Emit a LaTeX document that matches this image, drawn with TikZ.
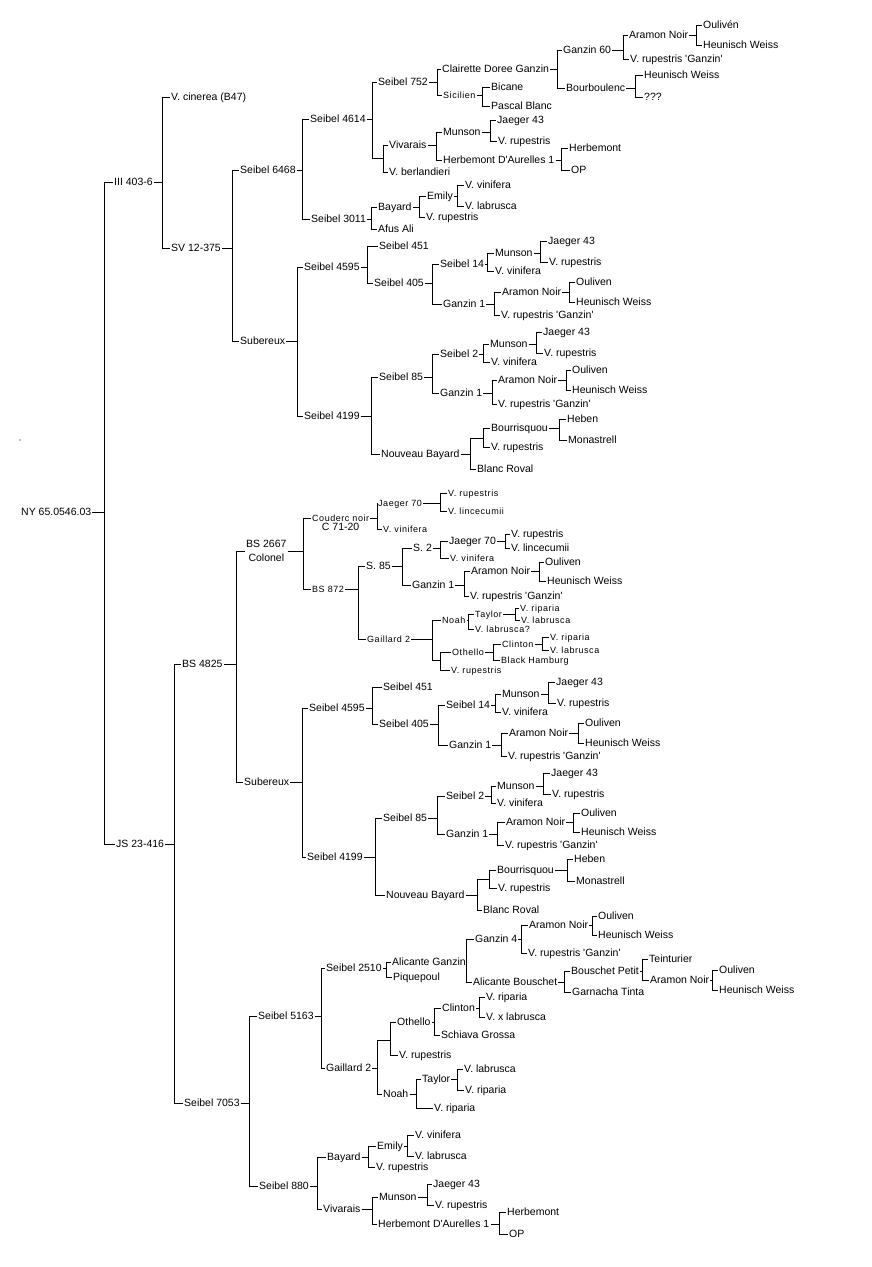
\documentclass[tikz,border=0pt]{standalone}
\usepackage{fontspec}
\setmainfont{Liberation Sans}
\newfontfamily\smallf[LetterSpace=6]{Liberation Sans}
\newcommand\q{\textquotesingle}
\tikzset{
  lab/.style={anchor=west, inner xsep=1pt, inner ysep=0pt, text height=7.6pt, text depth=0pt, font=\fontsize{10.5}{12}\selectfont},
  slab/.style={anchor=west, inner xsep=1pt, inner ysep=0pt, text height=6.6pt, text depth=0pt, font=\smallf\fontsize{9}{10}\selectfont},
  jn/.style={inner sep=0pt, minimum size=0pt},
  conn/.style={line width=1pt}
}
\newcommand\Nd[4]{\node[lab] (#1) at ({#2-1},#3) {#4};}
\newcommand\Ns[4]{\node[slab] (#1) at ({#2-1},#3) {#4};}
\newcommand\Jn[3]{\node[jn] (#1) at (#2,#3) {};}
\newcommand\Br[4]{\coordinate (v) at (#2,0);
  \draw[conn] (#1.east) -- (#1.east -| v);
  \draw[conn] (#3.west) -- (#3.west -| v) -- (#4.west -| v) -- (#4.west);}
\begin{document}
\begin{tikzpicture}[x=1pt,y=-1pt]
\path[fill=white] (0,0) rectangle (872,1267);
\useasboundingbox (0,0) rectangle (872,1267);
\fill (20,440) circle (0.6);
% ---------- root ----------
\Nd{root}{21}{512}{NY 65.0546.03}
\Nd{a}{114}{182}{III 403-6}
\Nd{b}{116}{844}{JS 23-416}
\Br{root}{104}{a}{b}
\Nd{acin}{171}{97}{V. cinerea (B47)}
\Nd{asv}{171}{248}{SV 12-375}
\Br{a}{162}{acin}{asv}
\Nd{s6468}{240}{170}{Seibel 6468}
\Nd{sub1}{240}{341}{Subereux}
\Br{asv}{232}{s6468}{sub1}
\Nd{s4614}{310}{119}{Seibel 4614}
\Nd{s3011}{311}{219}{Seibel 3011}
\Br{s6468}{302}{s4614}{s3011}
\Nd{s752}{378}{82}{Seibel 752}
\Jn{j1}{383}{158}
\Br{s4614}{372}{s752}{j1}
\Nd{cdg}{442}{69}{Clairette Doree Ganzin}
\Ns{sic}{443}{95}{Sicilien}
\Br{s752}{437}{cdg}{sic}
\Nd{g60}{563}{50}{Ganzin 60}
\Nd{bourb}{566}{88}{Bourboulenc}
\Br{cdg}{557}{g60}{bourb}
\Nd{an1}{629}{35}{Aramon Noir}
\Nd{vrg1}{630}{59}{V. rupestris \q Ganzin\q}
\Br{g60}{623}{an1}{vrg1}
\Nd{ou1}{703}{25}{Oulivén}
\Nd{hw1}{703}{45}{Heunisch Weiss}
\Br{an1}{696}{ou1}{hw1}
\Nd{hw2}{644}{75}{Heunisch Weiss}
\Nd{qq}{644}{97}{???}
\Br{bourb}{635}{hw2}{qq}
\Nd{bic}{491}{87}{Bicane}
\Nd{pb}{491}{106}{Pascal Blanc}
\Br{sic}{482}{bic}{pb}
\Nd{viv1}{389}{145}{Vivarais}
\Nd{vber}{389}{172}{V. berlandieri}
\Br{j1}{383}{viv1}{vber}
\Nd{mun1}{443}{132}{Munson}
\Nd{hda1}{443}{160}{Herbemont D\q Aurelles 1}
\Br{viv1}{436}{mun1}{hda1}
\Nd{j43a}{497}{120}{Jaeger 43}
\Nd{vr1}{498}{141}{V. rupestris}
\Br{mun1}{490}{j43a}{vr1}
\Nd{herb1}{569}{148}{Herbemont}
\Nd{op1}{571}{170}{OP}
\Br{hda1}{561}{herb1}{op1}
\Nd{bay1}{378}{207}{Bayard}
\Nd{afus}{378}{229}{Afus Ali}
\Br{s3011}{371}{bay1}{afus}
\Nd{emi1}{427}{196}{Emily}
\Nd{vr2}{426}{217}{V. rupestris}
\Br{bay1}{419}{emi1}{vr2}
\Nd{vv1}{465}{185}{V. vinifera}
\Nd{vl1}{465}{206}{V. labrusca}
\Br{emi1}{457}{vv1}{vl1}
% ---------- Subereux (top) ----------
\Nd{s4595a}{304}{267}{Seibel 4595}
\Nd{s4199a}{304}{416}{Seibel 4199}
\Br{sub1}{297}{s4595a}{s4199a}
\Nd{s451a}{379}{246}{Seibel 451}
\Nd{s405a}{374}{283}{Seibel 405}
\Br{s4595a}{367}{s451a}{s405a}
\Nd{s14a}{440}{264}{Seibel 14}
\Nd{g1a}{443}{304}{Ganzin 1}
\Br{s405a}{432}{s14a}{g1a}
\Nd{mun2}{495}{253}{Munson}
\Nd{vv2}{495}{271}{V. vinifera}
\Br{s14a}{487}{mun2}{vv2}
\Nd{j43b}{548}{241}{Jaeger 43}
\Nd{vr3}{549}{262}{V. rupestris}
\Br{mun2}{540}{j43b}{vr3}
\Nd{an2}{502}{292}{Aramon Noir}
\Nd{vrg2}{501}{315}{V. rupestris \q Ganzin\q}
\Br{g1a}{494}{an2}{vrg2}
\Nd{ou2}{576}{282}{Ouliven}
\Nd{hw3}{576}{302}{Heunisch Weiss}
\Br{an2}{569}{ou2}{hw3}
\Nd{s85a}{379}{377}{Seibel 85}
\Nd{nba}{381}{454}{Nouveau Bayard}
\Br{s4199a}{371}{s85a}{nba}
\Nd{s2a}{440}{354}{Seibel 2}
\Nd{g1b}{440}{393}{Ganzin 1}
\Br{s85a}{432}{s2a}{g1b}
\Nd{mun3}{490}{344}{Munson}
\Nd{vv3}{491}{362}{V. vinifera}
\Br{s2a}{483}{mun3}{vv3}
\Nd{j43c}{543}{332}{Jaeger 43}
\Nd{vr4}{544}{353}{V. rupestris}
\Br{mun3}{536}{j43c}{vr4}
\Nd{an3}{498}{380}{Aramon Noir}
\Nd{vrg3}{498}{404}{V. rupestris \q Ganzin\q}
\Br{g1b}{492}{an3}{vrg3}
\Nd{ou3}{572}{370}{Ouliven}
\Nd{hw4}{572}{390}{Heunisch Weiss}
\Br{an3}{566}{ou3}{hw4}
\Jn{j2}{483}{438}
\Nd{br1}{477}{469}{Blanc Roval}
\Br{nba}{470}{j2}{br1}
\Nd{bour1}{491}{428}{Bourrisquou}
\Nd{vr5}{491}{447}{V. rupestris}
\Br{j2}{483}{bour1}{vr5}
\Nd{heb1}{567}{419}{Heben}
\Nd{mon1}{568}{440}{Monastrell}
\Br{bour1}{559}{heb1}{mon1}
% ---------- JS 23-416 ----------
\Nd{bs4825}{182}{664}{BS 4825}
\Nd{s7053}{184}{1103}{Seibel 7053}
\Br{b}{174}{bs4825}{s7053}
\node[anchor=west, inner xsep=1pt, inner ysep=0pt, align=center, font=\fontsize{10.5}{14}\selectfont] (bs2667) at (245,551) {BS 2667\\Colonel};
\Nd{sub2}{244}{782}{Subereux}
\Br{bs4825}{236}{bs2667}{sub2}
\Ns{coud}{312}{518}{Couderc noir}
\node[lab, anchor=north, inner ysep=1.5pt] (c7120) at (coud.south) {C 71-20};
\Ns{bs872}{312}{589}{BS 872}
\Br{bs2667}{303}{coud}{bs872}
\Ns{j70a}{378}{503}{Jaeger 70}
\Ns{vv4}{383}{529}{V. vinifera}
\Br{coud}{377}{j70a}{vv4}
\Ns{vr6}{448}{493}{V. rupestris}
\Ns{vlin1}{448}{511}{V. lincecumii}
\Br{j70a}{440}{vr6}{vlin1}
\Nd{s85b}{366}{566}{S. 85}
\Ns{gail1}{367}{639}{Gaillard 2}
\Br{bs872}{358}{s85b}{gail1}
\Nd{s2b}{413}{548}{S. 2}
\Nd{g1c}{412}{585}{Ganzin 1}
\Br{s85b}{402}{s2b}{g1c}
\Nd{j70b}{449}{541}{Jaeger 70}
\Ns{vv5}{450}{558}{V. vinifera}
\Br{s2b}{440}{j70b}{vv5}
\Nd{vr7}{511}{534}{V. rupestris}
\Nd{vlin2}{511}{548}{V. lincecumii}
\Br{j70b}{505}{vr7}{vlin2}
\Nd{an4}{471}{571}{Aramon Noir}
\Nd{vrg4}{470}{596}{V. rupestris \q Ganzin\q}
\Br{g1c}{464}{an4}{vrg4}
\Nd{ou4}{545}{562}{Ouliven}
\Nd{hw5}{547}{581}{Heunisch Weiss}
\Br{an4}{539}{ou4}{hw5}
\Ns{noah1}{442}{620}{Noah}
\Jn{j3}{440}{660}
\Br{gail1}{432}{noah1}{j3}
\Ns{tay1}{475}{614}{Taylor}
\Ns{vlq}{475}{629}{V. labrusca?}
\Br{noah1}{468}{tay1}{vlq}
\Ns{vrip1}{520}{608}{V. riparia}
\Ns{vl2}{521}{620}{V. labrusca}
\Br{tay1}{515}{vrip1}{vl2}
\Ns{oth1}{452}{652}{Othello}
\Ns{vr8}{451}{670}{V. rupestris}
\Br{j3}{440}{oth1}{vr8}
\Ns{cli1}{502}{644}{Clinton}
\Ns{bh}{501}{660}{Black Hamburg}
\Br{oth1}{493}{cli1}{bh}
\Ns{vrip2}{550}{637}{V. riparia}
\Ns{vl3}{550}{650}{V. labrusca}
\Br{cli1}{542}{vrip2}{vl3}
% ---------- Subereux (bottom) ----------
\Nd{s4595b}{309}{708}{Seibel 4595}
\Nd{s4199b}{307}{857}{Seibel 4199}
\Br{sub2}{302}{s4595b}{s4199b}
\Nd{s451b}{383}{687}{Seibel 451}
\Nd{s405b}{379}{724}{Seibel 405}
\Br{s4595b}{372}{s451b}{s405b}
\Nd{s14b}{446}{705}{Seibel 14}
\Nd{g1d}{449}{745}{Ganzin 1}
\Br{s405b}{438}{s14b}{g1d}
\Nd{mun4}{502}{694}{Munson}
\Nd{vv6}{502}{712}{V. vinifera}
\Br{s14b}{495}{mun4}{vv6}
\Nd{j43d}{556}{682}{Jaeger 43}
\Nd{vr9}{557}{703}{V. rupestris}
\Br{mun4}{548}{j43d}{vr9}
\Nd{an5}{509}{733}{Aramon Noir}
\Nd{vrg5}{508}{756}{V. rupestris \q Ganzin\q}
\Br{g1d}{501}{an5}{vrg5}
\Nd{ou5}{585}{723}{Ouliven}
\Nd{hw6}{585}{743}{Heunisch Weiss}
\Br{an5}{578}{ou5}{hw6}
\Nd{s85c}{383}{818}{Seibel 85}
\Nd{nbb}{386}{895}{Nouveau Bayard}
\Br{s4199b}{375}{s85c}{nbb}
\Nd{s2c}{446}{796}{Seibel 2}
\Nd{g1e}{446}{834}{Ganzin 1}
\Br{s85c}{437}{s2c}{g1e}
\Nd{mun5}{497}{786}{Munson}
\Nd{vv7}{497}{803}{V. vinifera}
\Br{s2c}{491}{mun5}{vv7}
\Nd{j43e}{551}{773}{Jaeger 43}
\Nd{vr10}{552}{794}{V. rupestris}
\Br{mun5}{543}{j43e}{vr10}
\Nd{an6}{506}{822}{Aramon Noir}
\Nd{vrg6}{505}{845}{V. rupestris \q Ganzin\q}
\Br{g1e}{497}{an6}{vrg6}
\Nd{ou6}{581}{813}{Ouliven}
\Nd{hw7}{581}{832}{Heunisch Weiss}
\Br{an6}{573}{ou6}{hw7}
\Jn{j4}{489}{879}
\Nd{br2}{483}{910}{Blanc Roval}
\Br{nbb}{477}{j4}{br2}
\Nd{bour2}{497}{870}{Bourrisquou}
\Nd{vr11}{498}{888}{V. rupestris}
\Br{j4}{489}{bour2}{vr11}
\Nd{heb2}{574}{859}{Heben}
\Nd{mon2}{576}{881}{Monastrell}
\Br{bour2}{567}{heb2}{mon2}
% ---------- Seibel 7053 ----------
\Nd{s5163}{258}{1016}{Seibel 5163}
\Nd{s880}{259}{1186}{Seibel 880}
\Br{s7053}{249}{s5163}{s880}
\Nd{s2510}{326}{968}{Seibel 2510}
\Nd{gail2}{326}{1068}{Gaillard 2}
\Br{s5163}{321}{s2510}{gail2}
\Nd{alg}{392}{962}{Alicante Ganzin}
\Nd{piq}{393}{977}{Piquepoul}
\Br{s2510}{386}{alg}{piq}
\Nd{g4}{475}{939}{Ganzin 4}
\Nd{alb}{473}{982}{Alicante Bouschet}
\Br{alg}{466}{g4}{alb}
\Nd{an7}{529}{925}{Aramon Noir}
\Nd{vrg7}{528}{953}{V. rupestris \q Ganzin\q}
\Br{g4}{521}{an7}{vrg7}
\Nd{ou7}{598}{916}{Ouliven}
\Nd{hw8}{598}{935}{Heunisch Weiss}
\Br{an7}{592}{ou7}{hw8}
\Nd{bp}{571}{971}{Bouschet Petit}
\Nd{gt}{572}{992}{Garnacha Tinta}
\Br{alb}{564}{bp}{gt}
\Nd{tein}{649}{959}{Teinturier}
\Nd{an8}{650}{980}{Aramon Noir}
\Br{bp}{642}{tein}{an8}
\Nd{ou8}{719}{970}{Ouliven}
\Nd{hw9}{719}{990}{Heunisch Weiss}
\Br{an8}{712}{ou8}{hw9}
\Jn{j5}{390}{1040}
\Nd{noah2}{383}{1094}{Noah}
\Br{gail2}{377}{j5}{noah2}
\Nd{oth2}{397}{1022}{Othello}
\Nd{vr12}{399}{1055}{V. rupestris}
\Br{j5}{390}{oth2}{vr12}
\Nd{cli2}{442}{1008}{Clinton}
\Nd{sg}{441}{1035}{Schiava Grossa}
\Br{oth2}{434}{cli2}{sg}
\Nd{vrip3}{486}{997}{V. riparia}
\Nd{vxl}{486}{1017}{V. x labrusca}
\Br{cli2}{479}{vrip3}{vxl}
\Nd{tay2}{422}{1079}{Taylor}
\Nd{vrip4}{434}{1108}{V. riparia}
\Br{noah2}{416}{tay2}{vrip4}
\Nd{vl4}{464}{1069}{V. labrusca}
\Nd{vrip5}{465}{1090}{V. riparia}
\Br{tay2}{457}{vl4}{vrip5}
\Nd{bay2}{327}{1157}{Bayard}
\Nd{viv2}{323}{1209}{Vivarais}
\Br{s880}{317}{bay2}{viv2}
\Nd{emi2}{377}{1146}{Emily}
\Nd{vr13}{376}{1167}{V. rupestris}
\Br{bay2}{368}{emi2}{vr13}
\Nd{vv8}{415}{1135}{V. vinifera}
\Nd{vl5}{415}{1156}{V. labrusca}
\Br{emi2}{407}{vv8}{vl5}
\Nd{mun6}{379}{1197}{Munson}
\Nd{hda2}{378}{1224}{Herbemont D\q Aurelles 1}
\Br{viv2}{372}{mun6}{hda2}
\Nd{j43f}{433}{1184}{Jaeger 43}
\Nd{vr14}{435}{1205}{V. rupestris}
\Br{mun6}{427}{j43f}{vr14}
\Nd{herb2}{507}{1212}{Herbemont}
\Nd{op2}{509}{1234}{OP}
\Br{hda2}{499}{herb2}{op2}
\end{tikzpicture}
\end{document}
